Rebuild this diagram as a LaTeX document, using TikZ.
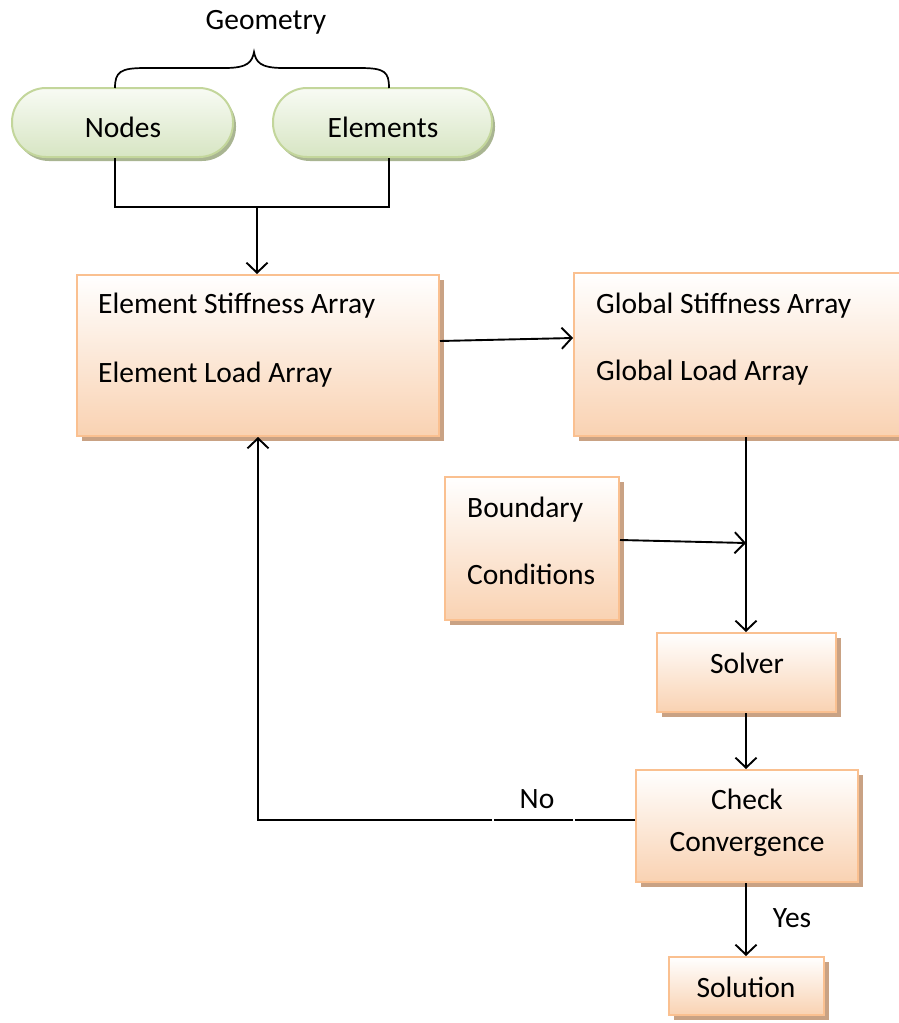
\documentclass[tikz,border=0pt]{standalone}
\usepackage{fontspec}
\setmainfont{Carlito}
\usetikzlibrary{arrows.meta,shadows,calc}
\definecolor{pillborder}{HTML}{C3D69B}
\definecolor{pilltop}{HTML}{F8FBF4}
\definecolor{pillbot}{HTML}{D7E5C3}
\definecolor{pillshadow}{HTML}{A9B592}
\definecolor{boxborder}{HTML}{FAC090}
\definecolor{boxbot}{HTML}{F9D2B2}
\definecolor{boxshadow}{HTML}{C9A284}
\begin{document}
\begin{tikzpicture}[x=1pt,y=-1pt,
  every node/.style={font=\fontsize{29.5}{34}\selectfont},
  pill/.style={draw=pillborder,line width=2pt,rounded corners=34pt,
    top color=pilltop,bottom color=pillbot,
    drop shadow={shadow xshift=3pt,shadow yshift=-4pt,fill=pillshadow,opacity=1},
    inner sep=0pt,text width=0pt},
  procbox/.style={draw=boxborder,line width=2pt,
    top color=white,bottom color=boxbot,
    drop shadow={shadow xshift=5pt,shadow yshift=-5pt,fill=boxshadow,opacity=1},
    inner sep=0pt},
  txt/.style={inner sep=0pt,anchor=base west},
  ctxt/.style={inner sep=0pt,anchor=base},
  conn/.style={line width=1.9pt,draw=black},
  arr/.style={conn,-{Straight Barb[length=10pt,width=21pt,line width=1.9pt]}}
]
\useasboundingbox (0,0) rectangle (898,1023);

% geometry pills
\node[pill,minimum width=221pt,minimum height=69pt] (nodesP) at (122.5,122.5) {};
\node[pill,minimum width=219pt,minimum height=69pt] (elemsP) at (382.5,122.5) {};
\node[ctxt] (nodesT) at (123,137) {Nodes};
\node[ctxt] (elemsT) at (383,137) {Elements};
\node[ctxt] (geoT) at (266,29) {Geometry};

% brace
\coordinate (bl) at (115,88);
\coordinate (br) at (389,88);
\coordinate (btip) at (254,52);
\draw[conn,line width=1.7pt] (bl) .. controls (115,72) and (120,68) .. (145,68)
  -- (225,68) .. controls (248,68) and (252,62) .. (btip)
  .. controls (256,62) and (260,68) .. (283,68)
  -- (360,68) .. controls (385,68) and (389,72) .. (br);

% process boxes
\node[procbox,minimum width=362pt,minimum height=161pt] (esa) at (258,355.5) {};
\node[procbox,minimum width=331pt,minimum height=163pt] (gsa) at (739.5,354.5) {};
\node[procbox,minimum width=174pt,minimum height=143pt] (bc) at (532,548.5) {};
\node[procbox,minimum width=179pt,minimum height=79pt] (solver) at (746.5,672.5) {};
\node[procbox,minimum width=222pt,minimum height=112pt] (check) at (747,826) {};
\node[procbox,minimum width=155pt,minimum height=58pt] (solution) at (746.5,986) {};

\node[txt] (esaT1) at (98,313) {Element Stiffness Array};
\node[txt] (esaT2) at (98,382) {Element Load Array};
\node[txt] (gsaT1) at (596,313) {Global Stiffness Array};
\node[txt] (gsaT2) at (596,380) {Global Load Array};
\node[txt] (bcT1) at (467,517) {Boundary};
\node[txt] (bcT2) at (467,584) {Conditions};
\node[ctxt] (solverT) at (747,673) {Solver};
\node[ctxt] (checkT1) at (747,809) {Check};
\node[ctxt] (checkT2) at (747,851) {Convergence};
\node[ctxt] (solT) at (746,997) {Solution};
\node[ctxt] (noT) at (537,808) {No};
\node[ctxt] (yesT) at (792,927) {Yes};

% connectors
\coordinate (j1) at (115,207);
\coordinate (j2) at (389,207);
\coordinate (j0) at (257,207);
\draw[conn] (j1 |- nodesP.south) -- (j1) -- (j2) -- (j2 |- elemsP.south);
\draw[arr] (j0) -- (j0 |- esa.north);

\draw[arr] ([yshift=14.5pt]esa.east) -- ([yshift=16.5pt]gsa.west);

\coordinate (v) at (746,543);
\draw[arr] (v |- gsa.south) -- (v |- solver.north);
\draw[arr] ([yshift=8.5pt]bc.east) -- (v);
\draw[arr] (v |- solver.south) -- (v |- check.north);
\draw[arr] (v |- check.south) -- (v |- solution.north);

\coordinate (cw) at ([yshift=6pt]check.west);
\coordinate (g1) at (575,820);
\coordinate (g2) at (573,820);
\coordinate (g3) at (494,820);
\coordinate (g4) at (492,820);
\coordinate (corner) at (258,820);
\draw[arr] (cw) -- (g1) (g2) -- (g3) (g4) -- (corner) -- (corner |- esa.south);
\end{tikzpicture}
\end{document}
